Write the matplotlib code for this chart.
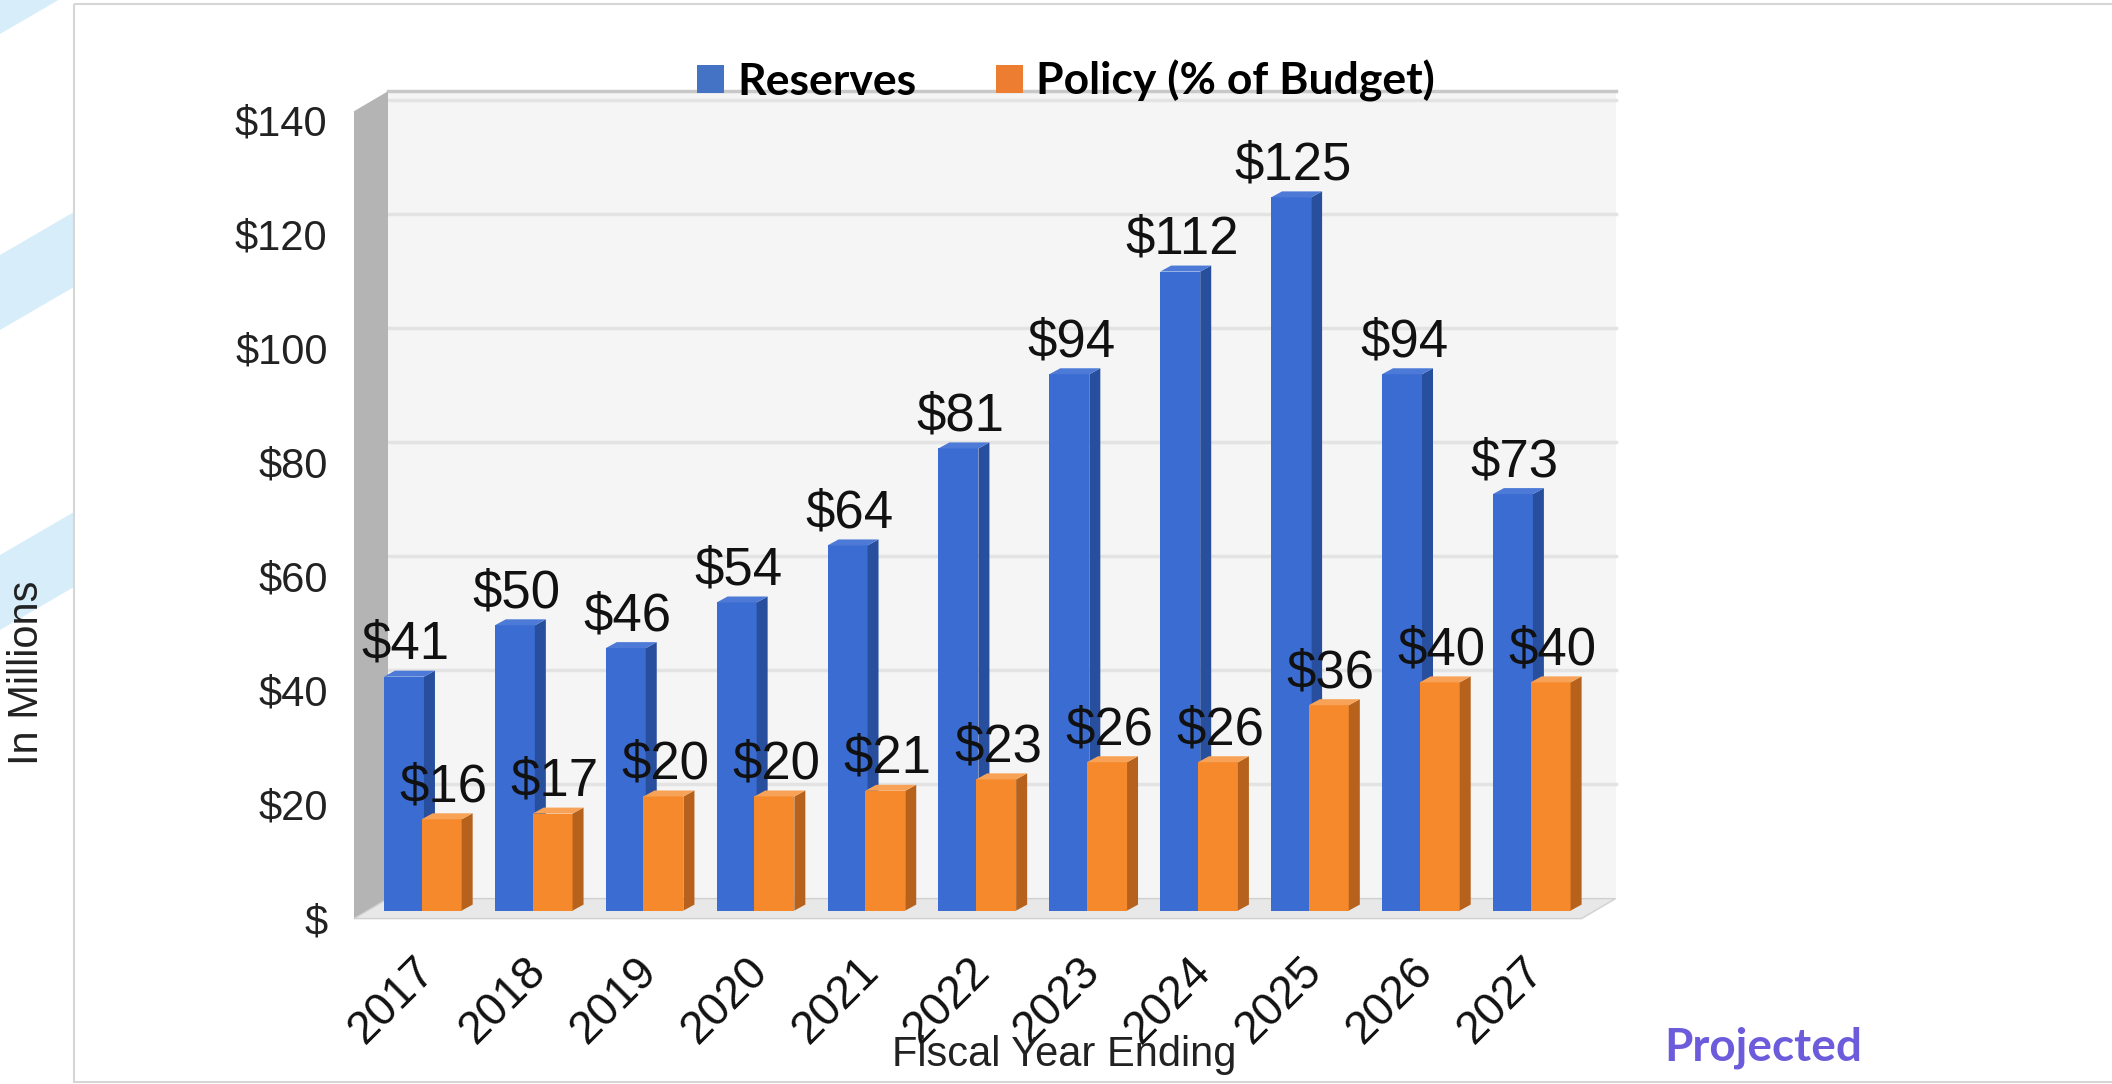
import matplotlib
matplotlib.use('Agg')
import matplotlib.pyplot as plt
from matplotlib.patches import Rectangle, Polygon, Patch
from matplotlib.transforms import Affine2D, ScaledTranslation

plt.rcParams['font.family'] = ['Liberation Sans', 'DejaVu Sans']

# ---- data ----
years = ['2017', '2018', '2019', '2020', '2021', '2022', '2023', '2024', '2025', '2026', '2027']
reserves = [41, 50, 46, 54, 64, 81, 94, 112, 125, 94, 73]
policy = [16, 17, 20, 20, 21, 23, 26, 26, 36, 40, 40]
y_ticks = [0, 20, 40, 60, 80, 100, 120, 140]
y_tick_labels = ['\\$', '\\$20', '\\$40', '\\$60', '\\$80', '\\$100', '\\$120', '\\$140']
series_names = ['Reserves', 'Policy (% of Budget)']

# ---- figure / page decoration ----
W, H, DPI = 2112, 1084, 100
fig = plt.figure(figsize=(W / DPI, H / DPI), dpi=DPI)
px = Affine2D().scale(1 / W, -1 / H).translate(0, 1) + fig.transFigure  # pixel coords, y down

for b in [34, 330, 630]:
    fig.add_artist(Polygon([(0, b), (74, b - 43), (74, b - 118), (0, b - 75)],
                           closed=True, fc='#d7eefa', ec='none', transform=px, zorder=0))
fig.add_artist(Rectangle((74, 4), W, 1078, fc='none', ec='#d6d6d6', lw=1.5, transform=px, zorder=1))

# ---- chart axes (front plane of the 3D box) ----
XL, XR = -0.67, 10.40
AX_L, AX_B, AX_W, AX_H = 354, 918.6, 1227.6, 798.8
ax = fig.add_axes([AX_L / W, 1 - AX_B / H, AX_W / W, AX_H / H])
ax.set_xlim(XL, XR)
ax.set_ylim(0, 140)
ax.set_autoscale_on(False)
for s in ax.spines.values():
    s.set_visible(False)
ax.patch.set_visible(False)

ux = (XR - XL) / AX_W     # data units per pixel
uy = 140 / AX_H
DX, DY = 34 * ux, 20 * uy  # box depth
TOP = 141.5

# back wall, side wall, floor
ax.add_patch(Rectangle((XL + DX, DY), XR - XL, TOP, fc='#f5f5f5', ec='none', zorder=0, clip_on=False))
ax.plot([XL + DX, XR + DX], [TOP + DY, TOP + DY], color='#c8c8c8', lw=2.5, zorder=0.5, clip_on=False)
for v in y_ticks[1:]:
    ax.plot([XL + DX, XR + DX], [v + DY, v + DY], color='#e3e3e3', lw=2.5, zorder=0.5, clip_on=False)
ax.add_patch(Polygon([(XL, 0), (XL, TOP), (XL + DX, TOP + DY), (XL + DX, DY)],
                     fc='#b4b4b4', ec='none', zorder=1, clip_on=False))
ax.add_patch(Polygon([(XL, 0), (XR, 0), (XR + DX, DY), (XL + DX, DY)],
                     fc='#e8e8e8', ec='#d0d0d0', lw=1, zorder=1, clip_on=False))

# ---- 3D-style bars ----
bar_trans = ax.transData + ScaledTranslation(0, 8 / DPI, fig.dpi_scale_trans)
BAR_W = 0.46
SX, SY = 11 * ux, 6 * uy
series = [
    (reserves, -0.40, ('#3a6cd2', '#284f9e', '#4d7ad6'), 2),
    (policy, -0.06, ('#f5892c', '#b7621c', '#f7a257'), 3),
]
for vals, off, (front, side, top), z in series:
    x0s = [i + off for i in range(len(years))]
    ax.bar(x0s, vals, width=BAR_W - SX, align='edge', color=front,
           transform=bar_trans, zorder=z, clip_on=False)
    for x0, v in zip(x0s, vals):
        x1 = x0 + BAR_W - SX
        ax.add_patch(Polygon([(x1, 0), (x1 + SX, SY), (x1 + SX, v + SY), (x1, v)],
                             fc=side, ec='none', transform=bar_trans, zorder=z, clip_on=False))
        ax.add_patch(Polygon([(x0, v), (x1, v), (x1 + SX, v + SY), (x0 + SX, v + SY)],
                             fc=top, ec='none', transform=bar_trans, zorder=z, clip_on=False))
        ax.annotate('\\$%d' % v, xy=(x0 + (BAR_W - SX) / 2 + 2 * ux, v), xycoords=bar_trans,
                    xytext=(0, 5), textcoords='offset points', ha='center', va='bottom',
                    fontsize=38, color='#111111', zorder=6, annotation_clip=False)

# ---- axes ticks and labels ----
ax.set_yticks(y_ticks)
ax.set_yticklabels(y_tick_labels, fontsize=30, color='#222222')
ax.set_xticks(range(len(years)))
ax.set_xticklabels(years, rotation=45, ha='right', va='center', rotation_mode='anchor',
                   fontsize=33, color='#111111')
ax.tick_params(axis='y', length=0, pad=19)
ax.tick_params(axis='x', length=0, pad=33)

fig.text(27 / W, 1 - 673 / H, 'In Millions', rotation=90, ha='center', va='center',
         fontsize=30, color='#222222')
fig.text(1064 / W, 1 - 1055 / H, 'Fiscal Year Ending', ha='center', va='center',
         fontsize=30, color='#222222')

fig.legend(handles=[Patch(fc='#4472c4'), Patch(fc='#ed7d31')], labels=series_names,
           loc='center', bbox_to_anchor=(1066 / W, 1 - 81 / H), ncol=2, frameon=False,
           prop={'family': 'Lato', 'weight': 'bold', 'size': 32},
           handlelength=0.6, handleheight=0.6, handletextpad=0.3, columnspacing=1.8,
           borderaxespad=0)

fig.text(1763 / W, 1 - 1048 / H, 'Projected', ha='center', va='center', color='#6c5cdc',
         fontsize=33, family='Lato', weight='bold')

fig.savefig('out.png', dpi=DPI)
